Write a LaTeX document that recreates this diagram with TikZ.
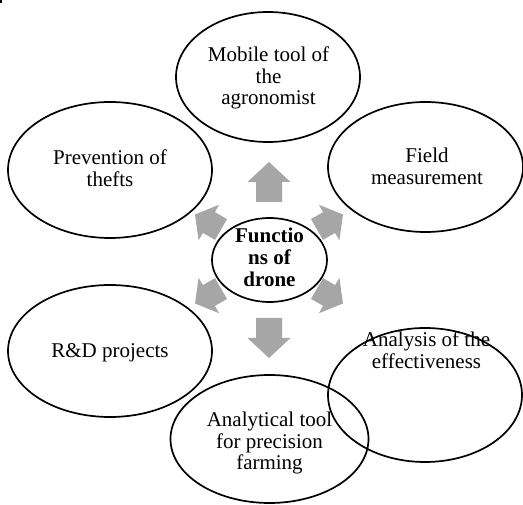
\documentclass[tikz,border=0pt]{standalone}
\usepackage{fontspec}
\setmainfont{Liberation Serif}
\usetikzlibrary{shapes.geometric}
\definecolor{arrgray}{RGB}{166,166,166}
\tikzset{
  x=1pt, y=-1pt,
  bubble/.style={draw=black, line width=1.7pt, ellipse, inner sep=0pt},
  txt/.style={text width=150pt, align=flush center, anchor=base, inner sep=0pt,
    font=\fontsize{21}{21.5}\selectfont},
  hubtxt/.style={text width=90pt, align=flush center, anchor=base, inner sep=0pt,
    font=\fontsize{21}{22}\selectfont\bfseries},
  pics/bigarr/.style={code={
    \fill[arrgray] (-13,0) -- (-13,-20) -- (-21.5,-20) -- (0,-40) -- (21.5,-20)
      -- (13,-20) -- (13,0) -- cycle;}},
  pics/smallarr/.style={code={
    \fill[arrgray] (-12,0) -- (-12,-14) -- (-20.5,-14) -- (0,-30) -- (20.5,-14)
      -- (12,-14) -- (12,0) -- cycle;}}
}
\begin{document}
\begin{tikzpicture}
\useasboundingbox (0,0) rectangle (523,505);
\fill (0,0) rectangle (2,3);
% outer bubbles
\node[bubble, minimum width=184pt, minimum height=130pt] (mob) at (268,77) {};
\node[bubble, minimum width=204pt, minimum height=136pt] (prev) at (110,170) {};
\node[bubble, minimum width=195pt, minimum height=130pt] (field) at (425.5,167) {};
\node[bubble, minimum width=204pt, minimum height=132pt] (rd) at (110,351) {};
\node[bubble, minimum width=194pt, minimum height=134pt] (anal) at (425,395) {};
\node[bubble, minimum width=198pt, minimum height=128pt] (tool) at (269.5,439) {};
% centre
\node[bubble, minimum width=115pt, minimum height=84pt] (hubel) at (269.5,260) {};
% arrows
\pic at (269,202) {bigarr};
\pic[rotate=180] at (269,318) {bigarr};
\pic[rotate=60] at (221,229.5) {smallarr};
\pic[rotate=-60] at (317,229.5) {smallarr};
\pic[rotate=120] at (221,288.5) {smallarr};
\pic[rotate=-120] at (317,288.5) {smallarr};
% texts
\node[txt] (tmob) at (268.5,62) {Mobile tool of\\the\\agronomist};
\node[txt] (tprev) at (110,165) {Prevention of\\thefts};
\node[txt] (tfield) at (427,163) {Field\\measurement};
\node[txt] (trd) at (110,358) {R\&D projects};
\node[txt] (tanal) at (426.5,347) {Analysis of the\\effectiveness};
\node[txt] (ttool) at (269.5,427) {Analytical tool\\for precision\\farming};
\node[hubtxt] (thub) at (269.5,243) {Functio\\ns of\\drone};
\end{tikzpicture}
\end{document}
